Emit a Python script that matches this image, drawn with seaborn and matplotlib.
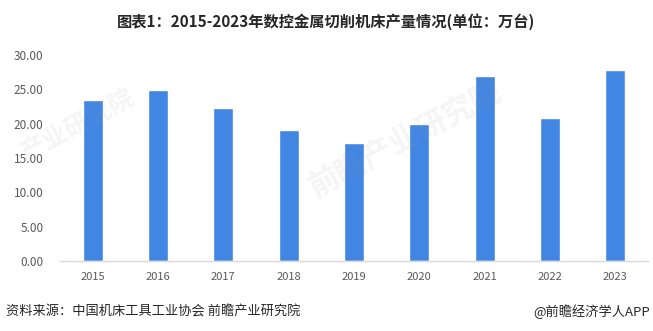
import matplotlib
matplotlib.use("Agg")
import matplotlib.pyplot as plt
import seaborn as sns
import pandas as pd

# Annual output of CNC metal-cutting machine tools (10k units)
years = ["2015", "2016", "2017", "2018", "2019", "2020", "2021", "2022", "2023"]
output = [23.4, 24.9, 22.3, 19.1, 17.2, 19.9, 26.9, 20.8, 27.8]
y_ticks = [0, 5, 10, 15, 20, 25, 30]

title = "图表1：2015-2023年数控金属切削机床产量情况(单位：万台)"
source = "资料来源：中国机床工具工业协会 前瞻产业研究院"
credit = "@前瞻经济学人APP"

sns.set_theme(style="white")
plt.rcParams["font.family"] = ["Noto Sans CJK SC", "DejaVu Sans"]

df = pd.DataFrame({"year": years, "value": output})

fig = plt.figure(figsize=(6.53, 3.31), dpi=100)
ax = fig.add_axes([60 / 653, 1 - 261 / 331, 588 / 653, 206 / 331])

sns.barplot(data=df, x="year", y="value", color="#4286E4", width=0.31,
            saturation=1, ax=ax)

ax.set_ylim(0, 30)
ax.set_xlim(-0.5, len(years) - 0.5)
ax.set_yticks(y_ticks)
ax.set_yticklabels([f"{v:.2f}" for v in y_ticks])
ax.set_xlabel("")
ax.set_ylabel("")
for side in ("top", "right", "left"):
    ax.spines[side].set_visible(False)
ax.spines["bottom"].set_color("#D9D9D9")
ax.spines["bottom"].set_linewidth(1)
ax.tick_params(axis="y", length=0, pad=12, labelsize=8.5, labelcolor="#595959")
ax.tick_params(axis="x", length=0, pad=8, labelsize=8, labelcolor="#595959")

# faint brand watermark
fig.text(0.62, 0.58, "前瞻产业研究院", fontsize=22, color="#9A9A9A", alpha=0.1,
         rotation=28, ha="center", va="center", fontweight="bold")
fig.text(0.12, 0.62, "产业研究院", fontsize=18, color="#9A9A9A", alpha=0.1,
         rotation=28, ha="center", va="center", fontweight="bold")

fig.text(0.5, 1 - 22 / 331, title, ha="center", va="center", fontsize=11,
         fontweight="bold", color="#262626")
fig.text(6 / 653, 1 - 312 / 331, source, ha="left", va="center", fontsize=9.5,
         color="#262626")
fig.text(650 / 653, 1 - 312 / 331, credit, ha="right", va="center", fontsize=9.5,
         color="#262626")

fig.savefig("out.png", dpi=100, facecolor="white")
